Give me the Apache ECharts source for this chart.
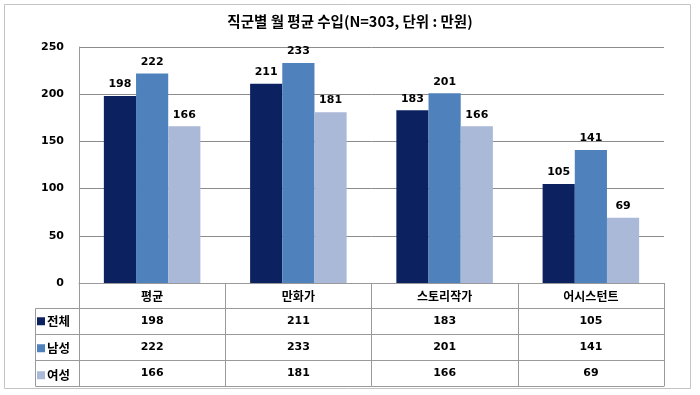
<!DOCTYPE html>
<html><head><meta charset="utf-8">
<script src="https://cdn.jsdelivr.net/npm/echarts@6/dist/echarts.min.js"></script>
<style>html,body{margin:0;padding:0;background:#fff}#c{width:700px;height:395px}</style>
</head><body><div id="c"></div>
<script>
const title = '직군별 월 평균 수입(N=303, 단위 : 만원)';
const categories = ['평균', '만화가', '스토리작가', '어시스턴트'];
const seriesNames = ['전체', '남성', '여성'];
const totalVals = [198, 211, 183, 105];
const maleVals = [222, 233, 201, 141];
const femaleVals = [166, 181, 166, 69];
const yTicks = [0, 50, 100, 150, 200, 250];
const colors = ['#0c2260', '#4f81bd', '#aab9d8'];

const seriesVals = [totalVals, maleVals, femaleVals];
const numFont = 'DejaVu Sans';
const krFont = '"Noto Sans CJK KR", sans-serif';
const lineCol = '#9a9a9a';
const rowOffsets = [25, 51, 77];

const chart = echarts.init(document.getElementById('c'));
const xAxes = [{
  type: 'category', data: categories, gridIndex: 0, position: 'bottom',
  axisLine: {show: true, lineStyle: {color: lineCol}},
  axisTick: {show: true, length: 103, lineStyle: {color: lineCol}},
  axisLabel: {margin: 7, fontFamily: krFont, fontWeight: 'bold', fontSize: 12, color: '#000'}
}];
seriesVals.forEach((vals, i) => {
  xAxes.push({
    type: 'category', data: vals.map(String), gridIndex: 0, position: 'bottom', offset: rowOffsets[i],
    axisLine: {show: true, lineStyle: {color: lineCol}},
    axisTick: {show: false},
    axisLabel: {margin: 8, fontFamily: numFont, fontWeight: 'bold', fontSize: 11, color: '#000'}
  });
});
xAxes.push({
  type: 'category', data: categories.map(() => ''), gridIndex: 0, position: 'bottom', offset: 103,
  axisLine: {show: true, lineStyle: {color: lineCol}}, axisTick: {show: false}, axisLabel: {show: false}
});

chart.setOption({
  animation: false,
  backgroundColor: '#fff',
  title: {
    text: title, left: 'center', top: 9,
    textStyle: {fontFamily: krFont, fontWeight: 'bold', fontSize: 14.5, color: '#000'}
  },
  legend: {
    orient: 'vertical', left: 37, top: 315, padding: 0, itemGap: 14.5,
    itemWidth: 8, itemHeight: 8, icon: 'rect',
    data: seriesNames,
    textStyle: {fontFamily: krFont, fontWeight: 'bold', fontSize: 12.5, color: '#000', padding: [3, 0, 0, -3]}
  },
  grid: {left: 79, right: 36, top: 47, bottom: 112},
  xAxis: xAxes,
  yAxis: {
    type: 'value', min: yTicks[0], max: yTicks[yTicks.length - 1], interval: yTicks[1] - yTicks[0],
    axisLine: {show: true, lineStyle: {color: lineCol}},
    axisTick: {show: false},
    splitLine: {lineStyle: {color: '#8c8c8c'}},
    axisLabel: {margin: 15, fontFamily: numFont, fontWeight: 'bold', fontSize: 11, color: '#000'}
  },
  series: seriesNames.map((n, i) => ({
    name: n, type: 'bar', data: seriesVals[i], xAxisIndex: 0,
    barGap: '0%', barCategoryGap: '34%',
    itemStyle: {color: colors[i]},
    label: {show: true, position: 'top', distance: 6, fontFamily: numFont, fontWeight: 'bold', fontSize: 11, color: '#000'}
  })),
  graphic: [
    {type: 'rect', shape: {x: 4.5, y: 4.5, width: 686, height: 384}, style: {fill: 'none', stroke: '#c4c4c4', lineWidth: 1}, silent: true},
    {type: 'line', shape: {x1: 35.5, y1: 308.5, x2: 79, y2: 308.5}, style: {stroke: lineCol}},
    {type: 'line', shape: {x1: 35.5, y1: 334.5, x2: 79, y2: 334.5}, style: {stroke: lineCol}},
    {type: 'line', shape: {x1: 35.5, y1: 360.5, x2: 79, y2: 360.5}, style: {stroke: lineCol}},
    {type: 'line', shape: {x1: 35.5, y1: 386.5, x2: 79, y2: 386.5}, style: {stroke: lineCol}},
    {type: 'line', shape: {x1: 35.5, y1: 308.5, x2: 35.5, y2: 386.5}, style: {stroke: lineCol}}
  ]
});
</script></body></html>
